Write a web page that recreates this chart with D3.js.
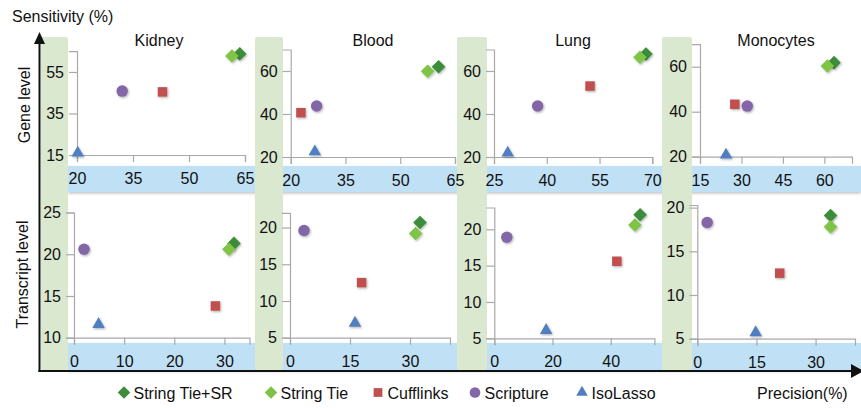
<!DOCTYPE html>
<html>
<head>
<meta charset="utf-8">
<script src="https://cdn.jsdelivr.net/npm/d3@7"></script>
<style>
  html, body { margin: 0; padding: 0; background: #fff; }
  svg { display: block; font-family: "Liberation Sans", Arial, Helvetica, sans-serif; }
</style>
</head>
<body>
<svg id="chart" width="861" height="408"></svg>
<script>
// ---------------- DATA ----------------
const tissues = ["Kidney", "Blood", "Lung", "Monocytes"];
const methods = ["String Tie+SR", "String Tie", "Cufflinks", "Scripture", "IsoLasso"];
const yAxisTitle = "Sensitivity (%)";
const xAxisTitle = "Precision(%)";
const rowLabels = ["Gene level", "Transcript level"];

// [precision, sensitivity] per tissue (Kidney, Blood, Lung, Monocytes)
const geneStringTieSR = [[63.6, 63.7], [60.5, 62.0], [68.2, 67.9], [63.5, 61.8]];
const geneStringTie   = [[61.5, 62.7], [57.5, 59.9], [66.5, 66.4], [61.1, 60.3]];
const geneCufflinks   = [[42.9, 45.4], [22.8, 40.6], [52.3, 53.0], [27.6, 43.3]];
const geneScripture   = [[32.1, 45.8], [27.1, 43.7], [37.4, 43.7], [32.1, 42.5]];
const geneIsoLasso    = [[20.2, 16.0], [26.6, 22.5], [28.9, 21.9], [24.4, 20.8]];

const transStringTieSR = [[31.9, 21.3], [32.5, 20.7], [50.1, 22.0], [33.8, 19.1]];
const transStringTie   = [[30.9, 20.6], [31.4, 19.2], [48.3, 20.6], [33.8, 17.8]];
const transCufflinks   = [[28.2, 13.8], [17.9, 12.5], [42.1, 15.6], [20.9, 12.5]];
const transScripture   = [[2.0, 20.6], [3.5, 19.6], [4.3, 18.9], [2.5, 18.3]];
const transIsoLasso    = [[4.9, 11.6], [16.25, 7.0], [17.8, 6.1], [14.8, 5.7]];

// axis domains and tick labels
const geneXDomain = [[20, 65], [20, 65], [25, 70], [15, 70]];
const geneYDomain = [[15, 65], [20, 70], [20, 70], [20, 70]];
const geneXTicks = [[20, 35, 50, 65], [20, 35, 50, 65], [25, 40, 55, 70], [15, 30, 45, 60]];
const geneYTicks = [[15, 35, 55], [20, 40, 60], [20, 40, 60], [20, 40, 60]];

const transXDomain = [[0, 35], [0, 40], [0, 55], [0, 40]];
const transYDomain = [[10, 25], [5, 22], [5, 23], [5, 20.3]];
const transXTicks = [[0, 10, 20, 30], [0, 15, 30], [0, 20, 40], [0, 15, 30]];
const transYTicks = [[10, 15, 20, 25], [5, 10, 15, 20], [5, 10, 15, 20], [5, 10, 15, 20]];

// ---------------- LAYOUT / STYLE ----------------
const layout = {
  geneXRange:  [[77, 245], [290.7, 455], [494, 652.3], [700, 852]],
  geneYRange:  [[155, 51.2], [157, 49.5], [157, 49.5], [156.7, 44.2]],
  transXRange: [[74, 249.5], [290, 450], [494.3, 654.4], [697.3, 855]],
  transYRange: [[337.7, 212.5], [337.7, 212.9], [338.3, 207.5], [338.7, 205]],
  titleX: [159, 373, 573, 776],
  greenBands: [[41, 68], [255, 283], [457, 487], [662, 692]],
  blueBands: [[166, 192], [343, 370]]
};
const colors = {
  "String Tie+SR": "#3b8d3a",
  "String Tie": "#7fc346",
  "Cufflinks": "#c0504d",
  "Scripture": "#8266a8",
  "IsoLasso": "#4f7fc0"
};
const shapes = {
  "String Tie+SR": d3.symbolDiamond2,
  "String Tie": d3.symbolDiamond2,
  "Cufflinks": d3.symbolSquare2,
  "Scripture": d3.symbolCircle,
  "IsoLasso": d3.symbolTriangle
};
const sizes = {
  "String Tie+SR": 118, "String Tie": 118, "Cufflinks": 115, "Scripture": 104, "IsoLasso": 68
};
const FONT = 16;

const geneSeries = [geneStringTieSR, geneStringTie, geneCufflinks, geneScripture, geneIsoLasso];
const transSeries = [transStringTieSR, transStringTie, transCufflinks, transScripture, transIsoLasso];

// ---------------- DRAW ----------------
const svg = d3.select("#chart");
const defs = svg.append("defs");
const sh = defs.append("filter").attr("id", "shadow").attr("x", "-50%").attr("y", "-50%").attr("width", "200%").attr("height", "200%");
sh.append("feDropShadow").attr("dx", 1).attr("dy", 1.2).attr("stdDeviation", 0.9).attr("flood-color", "#000").attr("flood-opacity", 0.3);
const fsh = defs.append("filter").attr("id", "frameShadow").attr("x", "-10%").attr("y", "-10%").attr("width", "120%").attr("height", "140%");
fsh.append("feGaussianBlur").attr("stdDeviation", 1.5);

// blue bands
layout.blueBands.forEach((b, i) => {
  svg.append("rect").attr("x", 68).attr("y", b[0] + 1.5).attr("width", 861 - 68).attr("height", b[1] - b[0])
    .attr("fill", "#999").attr("opacity", 0.6).attr("filter", "url(#frameShadow)");
  svg.append("rect").attr("x", 68).attr("y", b[0]).attr("width", 861 - 68).attr("height", b[1] - b[0])
    .attr("fill", "#bfe0f5");
});

// green bands
layout.greenBands.forEach(g => {
  svg.append("rect").attr("x", g[0]).attr("y", 37).attr("width", g[1] - g[0]).attr("height", 370 - 37)
    .attr("rx", 2).attr("fill", "#dae8cf");
});

// frame shadow
svg.append("line").attr("x1", 42).attr("x2", 850).attr("y1", 374).attr("y2", 374)
  .attr("stroke", "#888").attr("stroke-width", 2).attr("opacity", 0.6).attr("filter", "url(#frameShadow)");

function drawPanel(level, ti) {
  const isGene = level === 0;
  const xs = d3.scaleLinear()
    .domain(isGene ? geneXDomain[ti] : transXDomain[ti])
    .range(isGene ? layout.geneXRange[ti] : layout.transXRange[ti]);
  const ys = d3.scaleLinear()
    .domain(isGene ? geneYDomain[ti] : transYDomain[ti])
    .range(isGene ? layout.geneYRange[ti] : layout.transYRange[ti]);
  const y0 = ys.range()[0];
  const x0 = xs.range()[0];

  const xa = svg.append("g").attr("transform", `translate(0,${y0})`)
    .call(d3.axisBottom(xs).tickValues(isGene ? geneXTicks[ti] : transXTicks[ti])
      .tickSizeOuter(0).tickSize(7).tickPadding(8).tickFormat(d3.format("d")));
  const ya = svg.append("g").attr("transform", `translate(${x0},0)`)
    .call(d3.axisLeft(ys).tickValues(isGene ? geneYTicks[ti] : transYTicks[ti])
      .tickSizeOuter(0).tickSize(8).tickPadding(5).tickFormat(d3.format("d")));
  [xa, ya].forEach(a => {
    a.select(".domain").attr("stroke", "#a9a9a9").attr("stroke-width", 1.2);
    a.selectAll(".tick line").attr("stroke", "#a9a9a9").attr("stroke-width", 1.2);
    a.selectAll(".tick text").attr("fill", "#111").style("font-size", FONT + "px")
      .style("font-family", '"Liberation Sans", Arial, sans-serif');
  });
  xa.selectAll(".tick text").attr("dy", "0.88em");

  const series = isGene ? geneSeries : transSeries;
  methods.forEach((m, mi) => {
    const p = series[mi][ti];
    svg.append("path")
      .attr("d", d3.symbol().type(shapes[m]).size(sizes[m])())
      .attr("transform", `translate(${xs(p[0])},${ys(p[1])})`)
      .attr("fill", colors[m])
      .attr("filter", "url(#shadow)");
  });

  if (isGene) {
    svg.append("text").attr("x", layout.titleX[ti]).attr("y", 45.5)
      .attr("text-anchor", "middle").attr("fill", "#111").style("font-size", FONT + "px")
      .text(tissues[ti]);
  }
}

[0, 1].forEach(level => tissues.forEach((t, ti) => drawPanel(level, ti)));

// main axes (black frame with arrows)
svg.append("line").attr("x1", 39.5).attr("x2", 39.5).attr("y1", 42).attr("y2", 372)
  .attr("stroke", "#111").attr("stroke-width", 2);
svg.append("path").attr("d", "M34,44 L45,44 L39.5,32 Z").attr("fill", "#111");
svg.append("line").attr("x1", 38.5).attr("x2", 852).attr("y1", 371).attr("y2", 371)
  .attr("stroke", "#111").attr("stroke-width", 2);
svg.append("path").attr("d", "M851,364 L851,378 L864,371 Z").attr("fill", "#111");

// axis titles
svg.append("text").attr("x", 12).attr("y", 21.5).attr("fill", "#111").style("font-size", FONT + "px").text(yAxisTitle);
svg.append("text").attr("x", 757).attr("y", 398.5).attr("fill", "#111").style("font-size", FONT + "px").text(xAxisTitle);

// row labels
const rowCenters = [105, 274.5];
const rowBaselines = [29.5, 28];
rowLabels.forEach((r, i) => {
  svg.append("text").attr("transform", `translate(${rowBaselines[i]},${rowCenters[i]}) rotate(-90)`)
    .attr("text-anchor", "middle").attr("fill", "#111").style("font-size", FONT + "px").text(r);
});

// legend
const legendX = [124, 271, 378, 475, 582];
methods.forEach((m, i) => {
  svg.append("path")
    .attr("d", d3.symbol().type(shapes[m]).size(sizes[m] * 0.85)())
    .attr("transform", `translate(${legendX[i]},${392.5})`)
    .attr("fill", colors[m]);
  svg.append("text").attr("x", legendX[i] + 9.5).attr("y", 398.5).attr("fill", "#111")
    .style("font-size", FONT + "px").text(m);
});
</script>
</body>
</html>
